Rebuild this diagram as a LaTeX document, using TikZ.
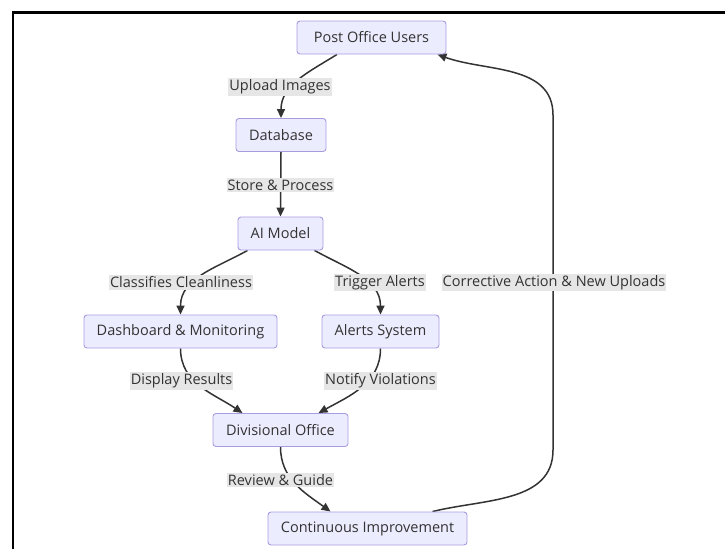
\documentclass[tikz,border=0pt]{standalone}
\usepackage{fontspec}
\setmainfont{Open Sans}
\usepackage{xcolor}
\usetikzlibrary{arrows.meta, backgrounds}

\definecolor{boxfill}{HTML}{ECECFF}
\definecolor{boxline}{HTML}{A99BE0}
\definecolor{inkgray}{HTML}{333333}
\definecolor{lblfill}{HTML}{E6E6E6}

\begin{document}
\begin{tikzpicture}[x=1pt,y=-1pt,>={Triangle[length=9pt,width=8pt]},
  font=\fontsize{14.5}{16}\selectfont, text=inkgray]

% Stili
\tikzset{
  stage/.style={draw=boxline, fill=boxfill, rounded corners=3pt, line width=0.9pt,
    minimum height=33pt, inner xsep=0pt, text=inkgray},
  tag/.style={fill=lblfill, inner xsep=1pt, inner ysep=1.5pt, text=inkgray},
  flow/.style={->, draw=inkgray, line width=1.5pt}
}

% Cornice e limiti
\useasboundingbox (0,0) rectangle (725,549);
\draw[line width=2.2pt] (13,549) -- (13,12.5) -- (725,12.5);

% --- Nodi ---
\node[stage, minimum width=149pt] (pou)  at (371.5,37.5) {Post Office Users};
\node[stage, minimum width=90pt]  (db)   at (281,135)   {Database};
\node[stage, minimum width=85pt]  (ai)   at (280.5,233.5) {AI Model};
\node[stage, minimum width=193pt] (dash) at (180.5,331.5) {Dashboard \& Monitoring};
\node[stage, minimum width=117pt] (alrt) at (380.5,331.5) {Alerts System};
\node[stage, minimum width=135pt] (div)  at (280.5,430)  {Divisional Office};
\node[stage, minimum width=199pt] (cont) at (367.5,528.5) {Continuous Improvement};

% --- Etichette ---
\node[tag] (upl)  at (280,87)    {Upload Images};
\node[tag] (stor) at (280.5,185) {Store \& Process};
\node[tag] (clas) at (181,282.5) {Classifies Cleanliness};
\node[tag] (trig) at (380,282.5) {Trigger Alerts};
\node[tag] (corr) at (554,282.5) {Corrective Action \& New Uploads};
\node[tag] (disp) at (181.5,381) {Display Results};
\node[tag] (noti) at (380.5,381) {Notify Violations};
\node[tag] (revw) at (280.5,480) {Review \& Guide};

% Punti di svolta del ritorno
\coordinate (turnlow)  at (553,450);
\coordinate (turnhigh) at (553,115);

% --- Frecce ---
\begin{scope}[on background layer]
\draw[flow] ([xshift=-34.5pt]pou.south) to[out=-148,in=90] (db.north);
\draw[flow] (db.south) -- (ai.south |- ai.north);
\draw[flow] ([xshift=-33pt]ai.south) to[out=-151,in=90] (dash.north);
\draw[flow] ([xshift=34pt]ai.south) to[out=-29,in=90] (alrt.north);
\draw[flow] (dash.south) to[out=-90,in=146] ([xshift=-38pt]div.north);
\draw[flow] (alrt.south) to[out=-90,in=29] ([xshift=38pt]div.north);
\draw[flow] (div.south) to[out=-90,in=144] ([xshift=-37pt]cont.north);
\draw[flow] ([xshift=65pt]cont.north) to[out=14,in=-90] (turnlow) -- (turnhigh)
  to[out=90,in=-20] ([xshift=-9pt]pou.south east);
\end{scope}

\end{tikzpicture}
\end{document}
